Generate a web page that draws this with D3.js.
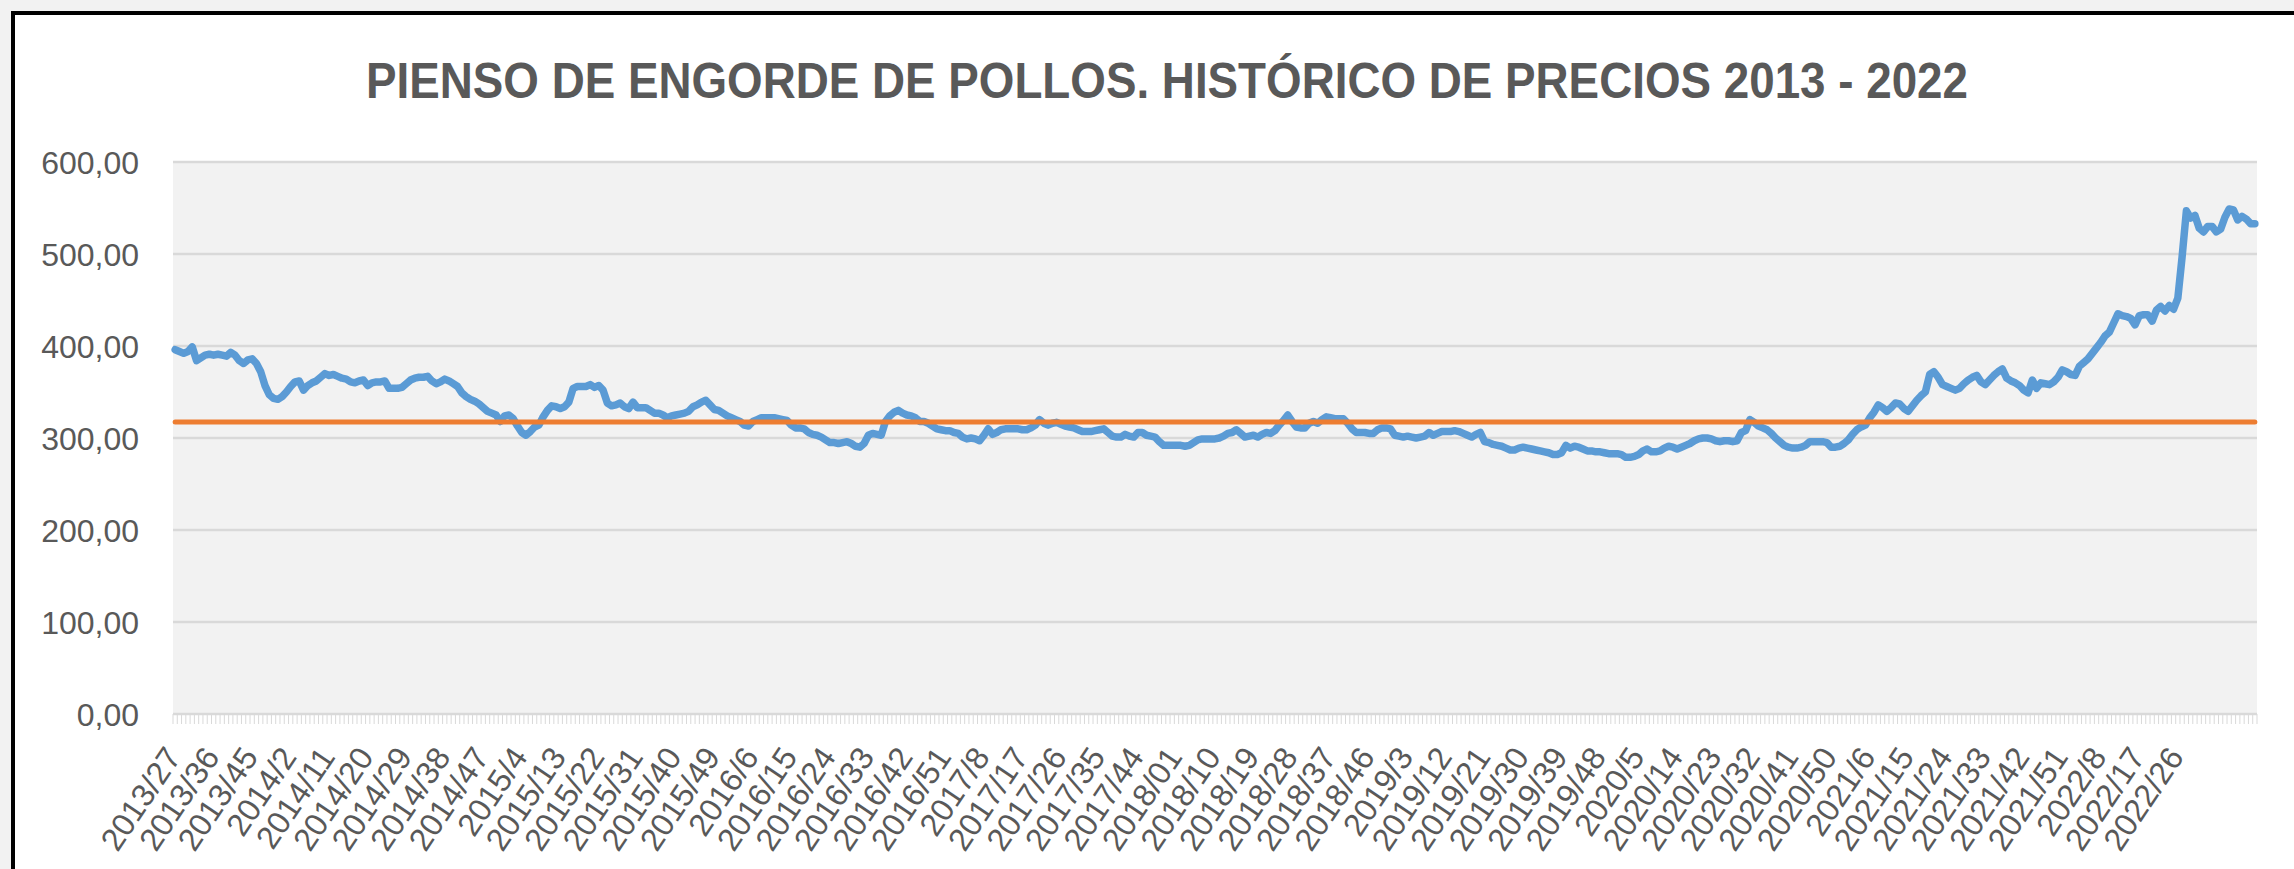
<!DOCTYPE html>
<html>
<head>
<meta charset="utf-8">
<script src="https://cdn.jsdelivr.net/npm/d3@7"></script>
<style>
  html, body { margin: 0; padding: 0; background: #f2f2f2; }
  svg { display: block; }
</style>
</head>
<body>
<svg id="chart" width="2294" height="869"></svg>
<script>
// Data
// ----
const titulo = "PIENSO DE ENGORDE DE POLLOS. HISTÓRICO DE PRECIOS 2013 - 2022";

// weekly labels, one every 9 weeks
const tickLabels = [
  "2013/27","2013/36","2013/45","2014/2","2014/11","2014/20","2014/29","2014/38","2014/47",
  "2015/4","2015/13","2015/22","2015/31","2015/40","2015/49","2016/6","2016/15","2016/24",
  "2016/33","2016/42","2016/51","2017/8","2017/17","2017/26","2017/35","2017/44","2018/01",
  "2018/10","2018/19","2018/28","2018/37","2018/46","2019/3","2019/12","2019/21","2019/30",
  "2019/39","2019/48","2020/5","2020/14","2020/23","2020/32","2020/41","2020/50","2021/6",
  "2021/15","2021/24","2021/33","2021/42","2021/51","2022/8","2022/17","2022/26"
];
const tickStep = 9;

const yTicks = [0, 100, 200, 300, 400, 500, 600];

// price per week (€/t)
const precios = [
  396,394,392,394,399,384,387,390,391,390,
  391,390,389,393,390,384,381,385,386,381,
  372,357,347,343,342,345,350,356,361,362,
  352,357,360,362,366,370,368,369,367,365,
  364,361,360,362,363,357,360,361,361,362,
  354,354,354,355,359,363,365,366,366,367,
  362,359,361,364,362,359,356,349,345,342,
  340,337,333,329,327,325,318,324,325,321,
  313,306,303,307,312,314,323,330,335,334,
  332,334,339,354,356,356,356,358,355,357,
  352,338,335,336,338,334,332,339,333,333,
  333,330,327,327,325,322,324,325,326,327,
  329,334,336,339,341,336,331,330,327,324,
  322,320,318,314,313,318,320,322,322,322,
  322,321,320,319,314,311,311,310,306,304,
  303,301,298,295,295,294,295,296,294,291,
  290,294,303,305,304,303,318,324,328,330,
  327,325,324,322,318,318,316,313,310,309,
  308,308,306,305,301,299,300,299,297,303,
  310,304,306,309,310,310,310,310,309,309,
  311,314,320,316,314,316,317,315,313,312,
  311,309,307,307,307,308,309,310,306,302,
  301,301,304,302,301,306,306,303,302,301,
  296,292,292,292,292,292,291,292,295,298,
  299,299,299,299,300,302,305,306,309,305,
  301,302,303,301,304,306,305,308,314,319,
  325,318,312,311,311,316,318,316,320,323,
  322,321,321,321,316,310,306,306,306,305,
  305,309,311,311,310,303,302,301,302,301,
  300,301,302,306,303,305,307,307,307,308,
  307,305,303,301,304,306,296,295,293,292,
  291,289,287,287,289,290,289,288,287,286,
  285,284,282,282,284,292,289,291,290,288,
  286,286,285,285,284,283,283,283,282,279,
  279,280,282,286,288,285,285,286,289,291,
  290,288,290,292,294,297,299,300,300,299,
  297,296,297,297,296,297,306,308,320,317,
  313,311,309,305,300,296,292,290,289,289,
  290,292,296,296,296,296,295,290,290,291,
  294,298,304,309,312,314,322,328,336,333,
  329,333,338,337,332,329,335,341,346,350,
  369,372,366,358,356,354,352,354,359,363,
  366,368,361,358,363,368,372,375,365,362,
  360,357,352,349,363,354,360,359,358,361,
  366,374,372,369,368,378,382,386,392,398,
  404,411,415,425,435,433,432,430,423,433,
  434,434,427,439,443,438,444,440,452,497,
  547,539,542,528,524,530,530,524,527,540,
  549,548,537,541,538,533,533
];

// average of the period (orange line)
const media = 317.5;

// Chart
// -----
const svg = d3.select("#chart");
const plot = { left: 173, right: 2257, top: 162, bottom: 714 };
const textColor = "#595959";
const font = "'Liberation Sans', Arial, sans-serif";

const es = d3.formatLocale({ decimal: ",", thousands: ".", grouping: [3], currency: ["", " €"] });
const fmt = es.format(",.2f");

const semanas = d3.range(precios.length);
const x = d3.scaleBand().domain(semanas).range([plot.left, plot.right]).padding(0);
const y = d3.scaleLinear().domain([0, 600]).range([plot.bottom, plot.top]);
const cx = i => x(i) + x.bandwidth() / 2;

// frame
svg.append("rect")
  .attr("x", 13).attr("y", 13)
  .attr("width", 2400).attr("height", 1000)
  .attr("fill", "#ffffff")
  .attr("stroke", "#000000").attr("stroke-width", 4);

// title
svg.append("text")
  .attr("x", (366 + 1968) / 2).attr("y", 98)
  .attr("text-anchor", "middle")
  .attr("font-family", font).attr("font-weight", "bold")
  .attr("font-size", 50)
  .attr("textLength", 1602).attr("lengthAdjust", "spacingAndGlyphs")
  .attr("fill", textColor)
  .text(titulo);

// plot area
svg.append("rect")
  .attr("x", plot.left).attr("y", plot.top)
  .attr("width", plot.right - plot.left).attr("height", plot.bottom - plot.top)
  .attr("fill", "#f2f2f2");

// gridlines + y labels
svg.append("g").selectAll("line")
  .data(yTicks).join("line")
  .attr("x1", plot.left).attr("x2", plot.right)
  .attr("y1", d => y(d)).attr("y2", d => y(d))
  .attr("stroke", "#d9d9d9").attr("stroke-width", 2.5);

svg.append("g").selectAll("text")
  .data(yTicks).join("text")
  .attr("x", 139).attr("y", d => y(d))
  .attr("dy", "0.36em")
  .attr("text-anchor", "end")
  .attr("font-family", font).attr("font-size", 32)
  .attr("fill", textColor)
  .text(d => fmt(d));

// category ticks under the axis
svg.append("g").selectAll("line")
  .data(d3.range(precios.length + 1)).join("line")
  .attr("x1", i => plot.left + i * x.bandwidth())
  .attr("x2", i => plot.left + i * x.bandwidth())
  .attr("y1", plot.bottom).attr("y2", plot.bottom + 10)
  .attr("stroke", "#d9d9d9").attr("stroke-width", 1);

// x labels
svg.append("g").selectAll("text")
  .data(tickLabels).join("text")
  .attr("transform", (d, k) => `translate(${cx(k * tickStep) + 7},${757}) rotate(-56)`)
  .attr("text-anchor", "end")
  .attr("font-family", font).attr("font-size", 32)
  .attr("fill", textColor)
  .text(d => d);

// price line
const line = d3.line()
  .x((d, i) => cx(i))
  .y(d => y(d));

svg.append("path")
  .datum(precios)
  .attr("d", line)
  .attr("fill", "none")
  .attr("stroke", "#5b9bd5").attr("stroke-width", 7.5)
  .attr("stroke-linejoin", "round").attr("stroke-linecap", "round");

// average line
svg.append("line")
  .attr("x1", cx(0)).attr("x2", cx(semanas.length - 1))
  .attr("y1", y(media)).attr("y2", y(media))
  .attr("stroke", "#ed7d31").attr("stroke-width", 5)
  .attr("stroke-linecap", "round");
</script>
</body>
</html>
